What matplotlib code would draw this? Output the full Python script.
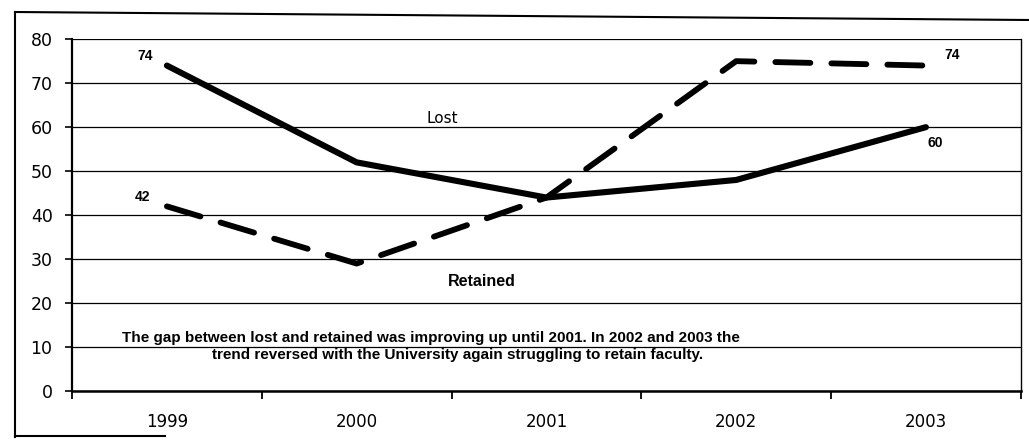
import matplotlib.pyplot as plt
from matplotlib.lines import Line2D

plt.rcParams['font.family'] = ['Liberation Sans', 'DejaVu Sans']

years = ['1999', '2000', '2001', '2002', '2003']
lost = [74, 52, 44, 48, 60]
retained = [42, 29, 44, 75, 74]
y_ticks = [0, 10, 20, 30, 40, 50, 60, 70, 80]

fig = plt.figure(figsize=(10.29, 4.40), dpi=100)
ax = fig.add_axes([0.070, 0.111, 0.922, 0.800])

x = [i + 0.5 for i in range(len(years))]
ax.plot(x, lost, color='black', lw=4.4, solid_capstyle='round', solid_joinstyle='miter')
ax.plot(x, retained, color='black', lw=4.2, dashes=(6, 3.6), dash_capstyle='round')

ax.set_xlim(0, len(years))
ax.set_ylim(0, 80)
ax.set_yticks(y_ticks)
ax.set_yticklabels([str(v) for v in y_ticks], fontsize=12.5, family='DejaVu Sans')
ax.set_xticks(range(len(years) + 1))
ax.set_xticklabels([])
ax.set_xticks(x, minor=True)
ax.set_xticklabels(years, minor=True, fontsize=12, family='DejaVu Sans')
ax.tick_params(axis='x', which='minor', length=0, pad=16)
ax.tick_params(axis='x', which='major', direction='out', length=6, width=1.3)
ax.tick_params(axis='y', direction='out', length=5, width=1.2, pad=9)

ax.grid(axis='y', color='black', lw=0.9)
ax.set_axisbelow(True)
ax.spines['top'].set_visible(False)
ax.spines['left'].set_linewidth(1.6)
ax.spines['bottom'].set_linewidth(1.8)
ax.spines['right'].set_linewidth(1.0)

# value labels at the ends of each series
lbl = dict(fontsize=10, fontweight='bold', ha='center', va='center')
ax.text(x[0] - 0.116, 76.1, str(lost[0]), **lbl)
ax.text(x[0] - 0.13, 44.1, str(retained[0]), **lbl)
ax.text(x[-1] + 0.14, 76.3, str(retained[-1]), **lbl)
ax.text(x[-1] + 0.05, 56.4, str(lost[-1]), **lbl)

# series names
ax.text(1.95, 62, 'Lost', fontsize=11, family='DejaVu Sans', ha='center', va='center')
ax.text(2.16, 25, 'Retained', fontsize=11.5, fontweight='bold', ha='center', va='center')

note = dict(fontsize=11, fontweight='bold', ha='center', va='center')
ax.text(1.89, 12.0,
        'The gap between lost and retained was improving up until 2001. In 2002 and 2003 the',
        **note)
ax.text(2.03, 8.2,
        'trend reversed with the University again struggling to retain faculty.', **note)

# page frame
frame = dict(color='black', lw=1.5, transform=fig.transFigure)
fig.add_artist(Line2D([15/1029, 1.0], [1 - 12/440, 1 - 20/440], **frame))
fig.add_artist(Line2D([15/1029, 15/1029], [1 - 12/440, 1 - 437/440], **frame))
fig.add_artist(Line2D([15/1029, 165/1029], [1 - 436/440, 1 - 436/440], **frame))

fig.savefig('out.png', dpi=100)
